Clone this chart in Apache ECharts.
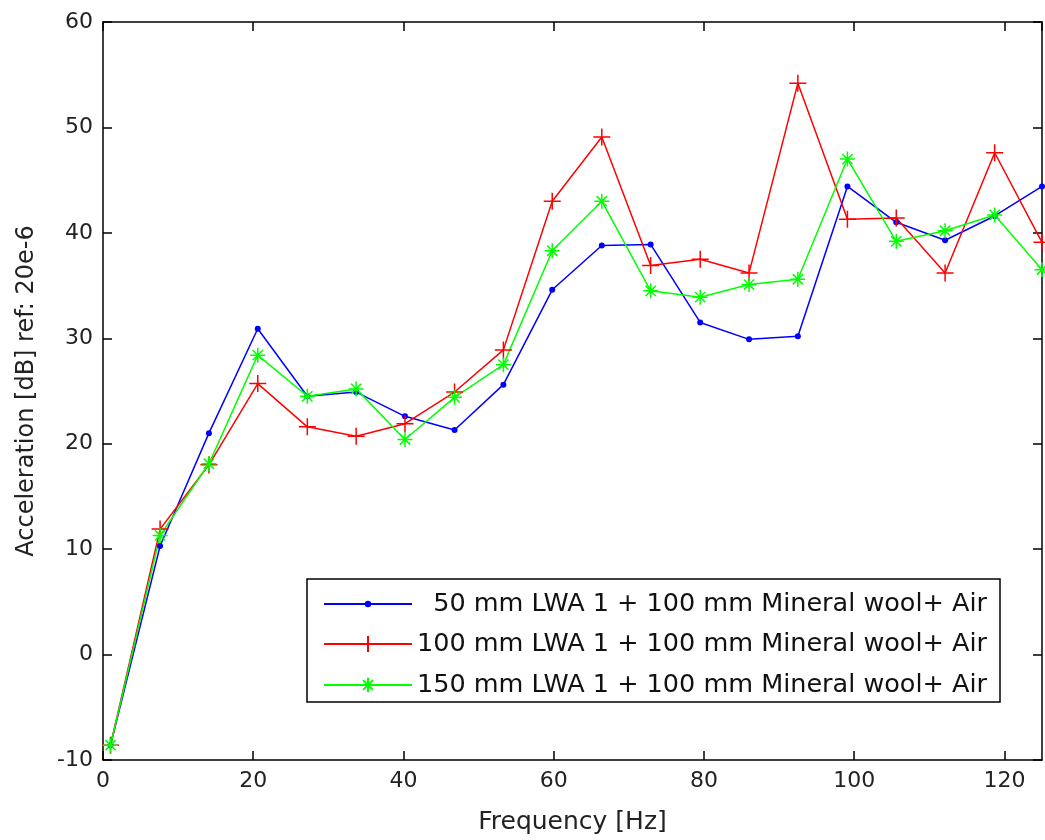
<!DOCTYPE html>
<html>
<head>
<meta charset="utf-8">
<script src="https://cdn.jsdelivr.net/npm/echarts@6/dist/echarts.min.js"></script>
<style>
html,body{margin:0;padding:0;background:#fff;}
#chart{width:1045px;height:840px;}
</style>
</head>
<body>
<div id="chart"></div>
<script>
const freq = [1.0, 7.6, 14.1, 20.6, 27.2, 33.7, 40.2, 46.8, 53.3, 59.8, 66.4, 72.9, 79.5, 86.0, 92.5, 99.1, 105.6, 112.1, 118.7, 125.0];
const blue50 = [-8.6, 10.3, 21.0, 30.9, 24.5, 24.9, 22.6, 21.3, 25.6, 34.6, 38.8, 38.9, 31.5, 29.9, 30.2, 44.4, 41.0, 39.3, 41.6, 44.4];
const red100 = [-8.6, 11.9, 18.0, 25.7, 21.6, 20.7, 21.9, 24.9, 28.9, 43.0, 49.1, 36.9, 37.5, 36.2, 54.2, 41.3, 41.4, 36.2, 47.6, 39.1];
const green150 = [-8.6, 11.3, 18.1, 28.4, 24.5, 25.2, 20.4, 24.4, 27.5, 38.3, 43.0, 34.5, 33.9, 35.1, 35.6, 47.0, 39.2, 40.2, 41.7, 36.5];
const seriesNames = [
  '  50 mm LWA 1 + 100 mm Mineral wool+ Air',
  '100 mm LWA 1 + 100 mm Mineral wool+ Air',
  '150 mm LWA 1 + 100 mm Mineral wool+ Air'
];
const xTitle = 'Frequency [Hz]';
const yTitle = 'Acceleration [dB] ref: 20e-6';

const pair = arr => freq.map((f, i) => [f, arr[i]]);
const PLUS = 'path://M0,5L10,5M5,0L5,10';
const STAR = 'path://M0,5L10,5M5,0L5,10M1.6,1.6L8.4,8.4M8.4,1.6L1.6,8.4';
const FONT = 'DejaVu Sans';

const chart = echarts.init(document.getElementById('chart'), null, {renderer: 'canvas'});
const axisCommon = {
  axisLine: {show: true, onZero: false, lineStyle: {color: '#000', width: 1.5}},
  axisTick: {show: true, inside: true, length: 9, lineStyle: {color: '#000', width: 1.5}},
  splitLine: {show: false}
};
const legendText = {fontFamily: FONT, fontSize: 25.5, color: '#111', lineHeight: 28};
const rowCenters = [604, 644, 685];
const legendHeights = [8, 20, 18];
const legends = seriesNames.map((n, i) => ({
  orient: 'vertical', left: 323, top: rowCenters[i] - 14,
  padding: 0, itemWidth: 88, itemHeight: legendHeights[i],
  textStyle: legendText, data: [n], z: 6
}));

chart.setOption({
  animation: false,
  backgroundColor: '#fff',
  grid: {left: 103, right: 3, top: 22, bottom: 79, containLabel: false},
  graphic: [{
    type: 'rect', z: 5,
    shape: {x: 307, y: 579, width: 693, height: 123},
    style: {fill: '#fff', stroke: '#000', lineWidth: 1.5}
  }],
  xAxis: [
    Object.assign({}, axisCommon, {
      type: 'value', min: 0, max: 125, interval: 20, position: 'bottom',
      name: xTitle, nameLocation: 'middle', nameGap: 50,
      nameTextStyle: {fontFamily: FONT, fontSize: 25, color: '#222'},
      axisLabel: {fontFamily: FONT, fontSize: 22, color: '#222', margin: 10, showMaxLabel: false}
    }),
    Object.assign({}, axisCommon, {
      type: 'value', min: 0, max: 125, interval: 20, position: 'top',
      axisLabel: {show: false}
    })
  ],
  yAxis: [
    Object.assign({}, axisCommon, {
      type: 'value', min: -10, max: 60, interval: 10, position: 'left',
      name: yTitle, nameLocation: 'middle', nameGap: 64,
      nameTextStyle: {fontFamily: FONT, fontSize: 24, color: '#222'},
      axisLabel: {fontFamily: FONT, fontSize: 22, color: '#222', margin: 10}
    }),
    Object.assign({}, axisCommon, {
      type: 'value', min: -10, max: 60, interval: 10, position: 'right',
      axisLabel: {show: false}
    })
  ],
  legend: legends,
  series: [
    {
      name: seriesNames[0], type: 'line', data: pair(blue50),
      symbol: 'circle', symbolSize: 6,
      itemStyle: {color: '#0000ff'},
      lineStyle: {color: '#0000ff', width: 1.5}
    },
    {
      name: seriesNames[1], type: 'line', data: pair(red100),
      symbol: PLUS, symbolSize: 17,
      itemStyle: {color: '#ff0000', borderColor: '#ff0000', borderWidth: 1.5},
      lineStyle: {color: '#ff0000', width: 1.5}
    },
    {
      name: seriesNames[2], type: 'line', data: pair(green150),
      symbol: STAR, symbolSize: 15,
      itemStyle: {color: '#00ff00', borderColor: '#00ff00', borderWidth: 1.5},
      lineStyle: {color: '#00ff00', width: 1.5}
    }
  ]
});
</script>
</body>
</html>
